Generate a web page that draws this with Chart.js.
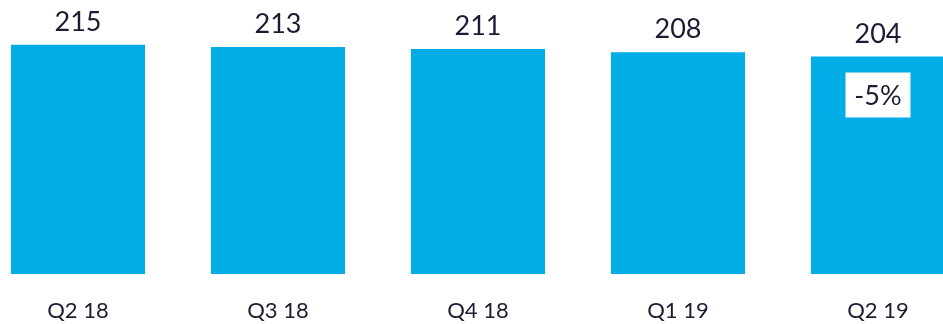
<!DOCTYPE html>
<html>
<head>
<meta charset="utf-8">
<script src="https://cdn.jsdelivr.net/npm/chart.js@4"></script>
<style>
  html, body { margin: 0; padding: 0; background: #fff; overflow: hidden; }
  #wrap { position: absolute; left: -22px; top: 0; width: 1000px; height: 324px; }
</style>
</head>
<body>
<div id="wrap"><canvas id="chart"></canvas></div>
<script>
const quarters = ["Q2 18", "Q3 18", "Q4 18", "Q1 19", "Q2 19"];
const values = [215, 213, 211, 208, 204];
const changeLabel = "-5%";

const textColor = "#1b1c33";
const barColor = "#00ade7";

// value labels above bars + change box in last bar
const labelsPlugin = {
  id: "labels",
  afterDatasetsDraw(chart) {
    const ctx = chart.ctx;
    const bars = chart.getDatasetMeta(0).data;
    ctx.save();
    ctx.fillStyle = textColor;
    ctx.font = "27px Lato";
    ctx.textAlign = "center";
    ctx.textBaseline = "alphabetic";
    bars.forEach((bar, i) => {
      ctx.fillText(values[i], bar.x, bar.y - 14);
    });

    const last = bars[bars.length - 1];
    const w = 65, h = 45;
    ctx.fillStyle = "#ffffff";
    ctx.fillRect(last.x - w / 2, last.y + 16, w, h);
    ctx.fillStyle = textColor;
    ctx.textBaseline = "middle";
    ctx.fillText(changeLabel, last.x, last.y + 16 + h / 2 + 1);
    ctx.restore();
  }
};

new Chart(document.getElementById("chart"), {
  type: "bar",
  data: {
    labels: quarters,
    datasets: [{
      data: values,
      backgroundColor: barColor,
      barPercentage: 0.67,
      categoryPercentage: 1
    }]
  },
  options: {
    responsive: true,
    maintainAspectRatio: false,
    animation: false,
    layout: { padding: 0 },
    plugins: {
      legend: { display: false },
      tooltip: { enabled: false }
    },
    scales: {
      x: {
        grid: { display: false, drawTicks: false },
        border: { display: false },
        ticks: {
          color: textColor,
          font: { family: "Lato", size: 22 },
          padding: 24
        },
        afterFit(scale) { scale.height = 50; }
      },
      y: {
        display: false,
        min: 0,
        max: 257
      }
    }
  },
  plugins: [labelsPlugin]
});
</script>
</body>
</html>
